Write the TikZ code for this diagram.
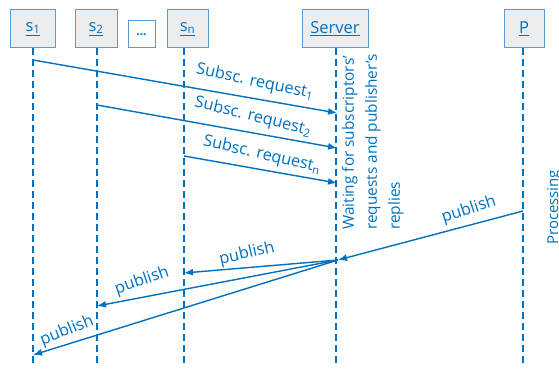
\documentclass[tikz,border=0pt]{standalone}
\usepackage{fontspec}
\setmainfont{Open Sans}
\usetikzlibrary{arrows.meta}
\definecolor{msgblue}{HTML}{0070C0}
\definecolor{boxedge}{HTML}{5B9BD5}
\definecolor{boxfill}{HTML}{EDEDED}
\begin{document}
\begin{tikzpicture}[x=1pt,y=-1pt,
  actor/.style={draw=boxedge, fill=boxfill, line width=1pt, minimum height=38pt,
    text=msgblue, font=\fontsize{16.5}{19}\selectfont, inner sep=0pt},
  life/.style={draw=msgblue, line width=1.4pt, dash pattern=on 7pt off 4pt},
  msg/.style={draw=msgblue, line width=1.4pt, -{Latex[length=9pt,width=7pt]}},
  lbl/.style={text=msgblue, font=\fontsize{16.3}{19}\selectfont, inner sep=1pt},
  note/.style={text=msgblue, font=\fontsize{15.4}{23}\selectfont, inner sep=0pt, rotate=90}]
\useasboundingbox (0,0) rectangle (559,371);

% participants
\node[actor, minimum width=45pt] (s1) at (33,29) {\underline{s\textsubscript{1}}};
\node[actor, minimum width=42pt] (s2) at (96,29) {\underline{s\textsubscript{2}}};
\node[draw=boxedge, fill=white, line width=1pt, minimum width=27pt, minimum height=27pt,
  text=msgblue, inner sep=0pt, font=\bfseries\fontsize{12}{14}\selectfont] (dots) at (141.5,34.5) {...};
\node[actor, minimum width=41pt] (sn) at (187.5,29) {\underline{s\textsubscript{n}}};
\node[actor, minimum width=66pt] (srv) at (335,29) {\underline{Server}};
\node[actor, minimum width=40pt] (pub) at (524,29) {\underline{P}};

% lifelines
\coordinate (s1top) at (33,48);   \coordinate (s1bot) at (33,366);
\coordinate (s2top) at (97,48);   \coordinate (s2bot) at (97,366);
\coordinate (sntop) at (184,48);  \coordinate (snbot) at (184,366);
\coordinate (srvtop) at (336,48); \coordinate (srvbot) at (336,366);
\coordinate (ptop) at (523,48);   \coordinate (pbot) at (523,366);
\foreach \l in {s1,s2,sn,srv,p} \draw[life] (\l top) -- (\l bot);

% subscription requests
\coordinate (q1) at (33,60);   \coordinate (r1) at (337,113);
\coordinate (q2) at (97,105);  \coordinate (r2) at (337,148);
\coordinate (qn) at (184,156); \coordinate (rn) at (337,183);
\draw[msg] (q1) -- (r1);
\draw[msg] (q2) -- (r2);
\draw[msg] (qn) -- (rn);
\node[lbl, rotate=-12] (l1) at (255,82) {Subsc. request\textsubscript{1}};
\node[lbl, rotate=-14] (l2) at (253,117) {Subsc. request\textsubscript{2}};
\node[lbl, rotate=-13] (ln) at (262,155) {Subsc. request\textsubscript{n}};

% publications
\coordinate (pp) at (523,211);  \coordinate (hub) at (338,260);
\coordinate (tn) at (184,273);  \coordinate (t2) at (97,306);  \coordinate (t1) at (33,355);
\draw[msg] (pp) -- (hub);
\draw[msg] (hub) -- (tn);
\draw[msg] (hub) -- (t2);
\draw[msg] (hub) -- (t1);
\node[lbl, rotate=18] (lp) at (469,210) {publish};
\node[lbl, rotate=13] (lpn) at (247,254) {publish};
\node[lbl, rotate=19] (lp2) at (142,281) {publish};
\node[lbl, rotate=22] (lp1) at (67,331) {publish};

% state notes
\node[note, anchor=north west, align=left] (wait) at (342,230)
  {Waiting for subscriptors'\\requests and publisher's\\replies};
\node[note, anchor=base west, font=\fontsize{15}{18}\selectfont] (proc) at (558,245) {Processing};
\end{tikzpicture}
\end{document}
